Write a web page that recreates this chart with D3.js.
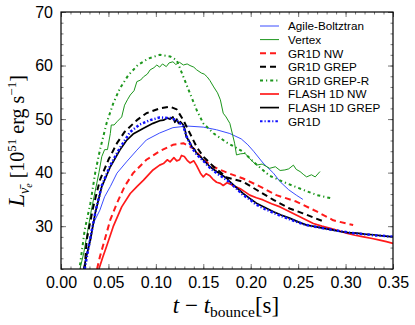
<!DOCTYPE html>
<html><head><meta charset="utf-8">
<script src="https://cdn.jsdelivr.net/npm/d3@7"></script>
<style>
body{margin:0;background:#fff;}
svg{display:block;}
</style></head>
<body>
<svg id="c" width="415" height="325"></svg>
<script>
// ---- data (t - t_bounce [s], L [1e51 erg/s]) ----
const agile = [[0.024,22],[0.029,26.5],[0.034,30.5],[0.041,33],[0.046,35.5],[0.052,37.4],[0.059,39.9],[0.069,42.0],[0.080,44.2],[0.090,46.1],[0.104,47.4],[0.118,48.4],[0.133,48.7],[0.150,48.5],[0.164,48.0],[0.178,47.3],[0.190,46.3],[0.197,45.2],[0.203,44.0],[0.213,41.8],[0.224,39.9],[0.231,38.3],[0.240,36.8],[0.248,35.8],[0.255,35.0]];
const vertex = [[0.020,22],[0.024,25],[0.028,29],[0.032,33],[0.036,36.5],[0.040,40],[0.043,43.0],[0.046,44.3],[0.049,44.3],[0.052,47.3],[0.053,48.9],[0.056,48.9],[0.059,49.5],[0.064,50.4],[0.067,52.6],[0.070,53.6],[0.073,54.5],[0.077,55.3],[0.080,57.0],[0.084,57.3],[0.087,57.9],[0.091,58.4],[0.094,59.2],[0.098,59.6],[0.101,60.1],[0.104,59.7],[0.107,60.3],[0.111,59.8],[0.114,60.5],[0.118,60.7],[0.121,60.2],[0.125,60.6],[0.129,60.1],[0.133,60.3],[0.136,60.0],[0.140,59.7],[0.143,59.2],[0.148,58.6],[0.151,58.4],[0.154,57.9],[0.157,57.2],[0.161,56.0],[0.165,54.9],[0.168,53.6],[0.171,51.1],[0.174,50.4],[0.178,49.2],[0.181,47.0],[0.183,45.5],[0.185,43.3],[0.189,43.5],[0.194,43.6],[0.199,42.6],[0.206,41.4],[0.212,41.6],[0.220,40.8],[0.226,41.1],[0.231,40.4],[0.236,40.5],[0.240,40.7],[0.245,41.4],[0.248,40.6],[0.252,40.2],[0.256,39.6],[0.259,39.2],[0.264,39.6],[0.268,39.2],[0.273,40.2]];
const gr1dNW = [[0.038,22],[0.041,24.3],[0.046,27.4],[0.052,31.2],[0.059,34.3],[0.067,37.4],[0.076,39.9],[0.090,42.4],[0.104,44.0],[0.118,45.2],[0.129,45.5],[0.140,44.5],[0.147,43.0],[0.157,41.4],[0.168,40.5],[0.178,39.8],[0.192,38.9],[0.210,37.4],[0.227,35.8],[0.248,34.6],[0.270,32.7],[0.287,31.1],[0.308,30.2]];
const gr1dGREP = [[0.025,22],[0.027,27.4],[0.034,33.6],[0.041,38.6],[0.050,42.4],[0.059,45.5],[0.067,47.6],[0.080,49.8],[0.090,51.1],[0.104,52.0],[0.115,52.3],[0.122,51.8],[0.129,49.8],[0.136,47.3],[0.143,44.8],[0.150,43.0],[0.161,41.1],[0.175,39.1],[0.192,38.3],[0.206,36.8],[0.224,34.9],[0.241,33.3],[0.255,32.4],[0.275,31.0]];
const gr1dGREPR = [[0.020,22.7],[0.025,29.3],[0.031,34.3],[0.036,39.9],[0.041,44.2],[0.048,49.2],[0.055,52.9],[0.062,55.7],[0.071,58.2],[0.081,60.1],[0.092,61.3],[0.104,62.0],[0.115,61.7],[0.122,61.0],[0.129,57.9],[0.136,54.8],[0.143,51.7],[0.150,49.2],[0.161,47.3],[0.175,45.6],[0.192,43.9],[0.203,42.0],[0.220,39.4],[0.238,38.0],[0.255,36.8],[0.270,35.8],[0.285,35.2]];
const flashNW = [[0.040,22],[0.044,24.2],[0.048,26.2],[0.055,29.9],[0.064,33.6],[0.073,36.1],[0.080,37.4],[0.087,38.6],[0.097,40.5],[0.104,41.4],[0.108,41.7],[0.112,42.4],[0.115,42.0],[0.119,42.8],[0.122,42.2],[0.125,42.4],[0.127,43.2],[0.130,43.0],[0.133,42.3],[0.136,41.8],[0.140,42.2],[0.143,41.3],[0.145,40.6],[0.147,39.9],[0.150,39.2],[0.153,39.8],[0.157,39.4],[0.160,38.8],[0.164,38.2],[0.168,38.0],[0.171,37.6],[0.175,38.1],[0.178,37.9],[0.182,37.5],[0.185,37.3],[0.189,37.0],[0.194,36.4],[0.199,35.8],[0.206,35.3],[0.213,34.9],[0.222,34.2],[0.231,33.6],[0.240,32.8],[0.248,32.1],[0.257,31.3],[0.266,30.5],[0.275,30.0],[0.284,29.6],[0.292,29.2],[0.301,28.7],[0.310,28.3],[0.319,28.0],[0.328,27.7],[0.336,27.4],[0.343,27.1],[0.350,26.8]];
const flashGREP = [[0.024,22],[0.027,24.5],[0.031,27.4],[0.036,32.4],[0.043,37.4],[0.052,41.1],[0.062,44.2],[0.069,46.0],[0.076,47.2],[0.087,48.3],[0.097,49.2],[0.104,49.7],[0.108,49.8],[0.112,50.2],[0.115,50.0],[0.118,50.4],[0.120,49.4],[0.122,50.0],[0.124,49.2],[0.126,49.5],[0.129,48.9],[0.131,47.8],[0.132,46.7],[0.134,46.2],[0.136,45.6],[0.138,44.8],[0.141,44.3],[0.143,43.6],[0.147,43.0],[0.150,42.4],[0.157,41.1],[0.164,40.2],[0.170,39.5],[0.175,38.9],[0.178,38.3],[0.185,37.2],[0.192,36.1],[0.199,35.2],[0.206,34.3],[0.215,33.5],[0.224,32.7],[0.232,32.1],[0.241,31.5],[0.250,30.8],[0.259,30.2],[0.268,29.9],[0.277,29.6],[0.286,29.3],[0.294,29.0],[0.303,28.8],[0.312,28.7],[0.320,28.5],[0.329,28.4],[0.339,28.2],[0.350,28.0]];
const gr1d = [[0.025,22],[0.028,25.0],[0.032,28.8],[0.037,33.2],[0.043,37.6],[0.052,41.4],[0.062,44.6],[0.073,47.6],[0.083,49.0],[0.094,49.8],[0.104,50.3],[0.115,50.2],[0.122,49.8],[0.129,48.6],[0.133,46.5],[0.138,44.6],[0.143,43.4],[0.150,42.2],[0.157,40.9],[0.164,39.9],[0.175,38.6],[0.185,37.0],[0.192,35.8],[0.199,35.0],[0.206,34.0],[0.215,33.2],[0.224,32.5],[0.232,31.9],[0.241,31.3],[0.250,30.7],[0.259,30.2],[0.268,29.9],[0.277,29.6],[0.286,29.3],[0.294,29.1],[0.303,28.8],[0.312,28.6],[0.320,28.5],[0.329,28.3],[0.339,28.2],[0.350,28.0]];

const seriesNames = ["Agile-Boltztran","Vertex","GR1D NW","GR1D GREP","GR1D GREP-R","FLASH 1D NW","FLASH 1D GREP","GR1D"];
const seriesData = [agile, vertex, gr1dNW, gr1dGREP, gr1dGREPR, flashNW, flashGREP, gr1d];
const xTickValues = [0.00,0.05,0.10,0.15,0.20,0.25,0.30,0.35];
const yTickValues = [30,40,50,60,70];

// ---- styles ----
const styles = [
  {color:"#3a4cff", width:1, dash:null},
  {color:"#1c961c", width:1, dash:null},
  {color:"#ff1a1a", width:2, dash:"6,4"},
  {color:"#000000", width:2, dash:"6,4"},
  {color:"#1c961c", width:2, dash:"3,3,1.2,3"},
  {color:"#ff1a1a", width:1.7, dash:null},
  {color:"#000000", width:1.7, dash:null},
  {color:"#1010ff", width:2.5, dash:"2.5,2,1.2,2"}
];

const svg = d3.select("#c");
const L = 61, T = 12, R = 393, B = 269;
const x = d3.scaleLinear().domain([0,0.35]).range([L,R]);
const y = d3.scaleLinear().domain([22,70]).range([B,T]);

svg.append("defs").append("clipPath").attr("id","clip")
  .append("rect").attr("x",L).attr("y",T).attr("width",R-L).attr("height",B-T);

const line = d3.line().x(d=>x(d[0])).y(d=>y(d[1]));
const g = svg.append("g").attr("clip-path","url(#clip)");
seriesData.forEach((s,i)=>{
  const st = styles[i];
  g.append("path").attr("d",line(s)).attr("fill","none")
    .attr("stroke",st.color).attr("stroke-width",st.width)
    .attr("stroke-dasharray",st.dash).attr("stroke-linejoin","round");
});

// ---- axes (inward ticks on all sides) ----
const fontTick = "Liberation Sans, Arial, sans-serif";
const xMinor = d3.range(0,0.3501,0.01);
const yMinor = d3.range(22,70.01,2);
const axB = svg.append("g").attr("transform",`translate(0,${B})`)
  .call(d3.axisBottom(x).tickValues(xTickValues).tickFormat(d3.format(".2f")).tickSizeInner(-5).tickSizeOuter(0).tickPadding(8));
const axBm = svg.append("g").attr("transform",`translate(0,${B})`)
  .call(d3.axisBottom(x).tickValues(xMinor).tickFormat("").tickSizeInner(-2.5).tickSizeOuter(0));
const axT = svg.append("g").attr("transform",`translate(0,${T})`)
  .call(d3.axisTop(x).tickValues(xTickValues).tickFormat("").tickSizeInner(-5).tickSizeOuter(0));
const axTm = svg.append("g").attr("transform",`translate(0,${T})`)
  .call(d3.axisTop(x).tickValues(xMinor).tickFormat("").tickSizeInner(-2.5).tickSizeOuter(0));
const axL = svg.append("g").attr("transform",`translate(${L},0)`)
  .call(d3.axisLeft(y).tickValues(yTickValues).tickFormat(d3.format("d")).tickSizeInner(-5).tickSizeOuter(0).tickPadding(8));
const axLm = svg.append("g").attr("transform",`translate(${L},0)`)
  .call(d3.axisLeft(y).tickValues(yMinor).tickFormat("").tickSizeInner(-2.5).tickSizeOuter(0));
const axR = svg.append("g").attr("transform",`translate(${R},0)`)
  .call(d3.axisRight(y).tickValues(yTickValues).tickFormat("").tickSizeInner(-5).tickSizeOuter(0));
const axRm = svg.append("g").attr("transform",`translate(${R},0)`)
  .call(d3.axisRight(y).tickValues(yMinor).tickFormat("").tickSizeInner(-2.5).tickSizeOuter(0));
[axB,axBm,axT,axTm,axL,axLm,axR,axRm].forEach(a=>{
  a.select(".domain").remove();
  a.selectAll(".tick line").attr("stroke","#555").attr("stroke-width",0.8);
  a.selectAll("text").attr("font-family",fontTick).attr("font-size",16).attr("fill","#000");
});
svg.append("rect").attr("x",L).attr("y",T).attr("width",R-L).attr("height",B-T)
  .attr("fill","none").attr("stroke","#000").attr("stroke-width",1.2);

// ---- legend ----
const lg = svg.append("g");
seriesNames.forEach((n,i)=>{
  const yy = 26 + i*13.6;
  const st = styles[i];
  lg.append("line").attr("x1",260).attr("x2",279).attr("y1",yy).attr("y2",yy)
    .attr("stroke",st.color).attr("stroke-width",st.width===1?1:Math.min(st.width,2))
    .attr("stroke-dasharray",st.dash);
  lg.append("text").attr("x",288).attr("y",yy+4.3).text(n)
    .attr("font-family",fontTick).attr("font-size",11.7).attr("fill","#000");
});

// ---- axis titles ----
const serif = "Liberation Serif, DejaVu Serif, serif";
const xt = svg.append("text").attr("x",226).attr("y",313).attr("text-anchor","middle")
  .attr("font-family",serif).attr("font-size",23).attr("fill","#000");
xt.append("tspan").attr("font-style","italic").text("t");
xt.append("tspan").text(" − ");
xt.append("tspan").attr("font-style","italic").text("t");
xt.append("tspan").attr("font-size",15.5).attr("dy",4).text("bounce");
xt.append("tspan").attr("dy",-4).text("[s]");

const yt = svg.append("text").attr("transform","translate(24,141) rotate(-90)")
  .attr("text-anchor","middle").attr("font-family",serif).attr("font-size",20).attr("fill","#000");
yt.append("tspan").attr("font-style","italic").attr("font-size",23).text("L");
yt.append("tspan").attr("font-style","italic").attr("font-size",14).attr("dy",5).text("ν̄");
yt.append("tspan").attr("font-style","italic").attr("font-size",10).attr("dy",3).text("e");
yt.append("tspan").attr("dy",-8).text(" [10");
yt.append("tspan").attr("font-size",13).attr("dy",-8).text("51");
yt.append("tspan").attr("dy",8).text(" erg s");
yt.append("tspan").attr("font-size",13).attr("dy",-8).text("−1");
yt.append("tspan").attr("dy",8).text("]");
</script>
</body></html>
